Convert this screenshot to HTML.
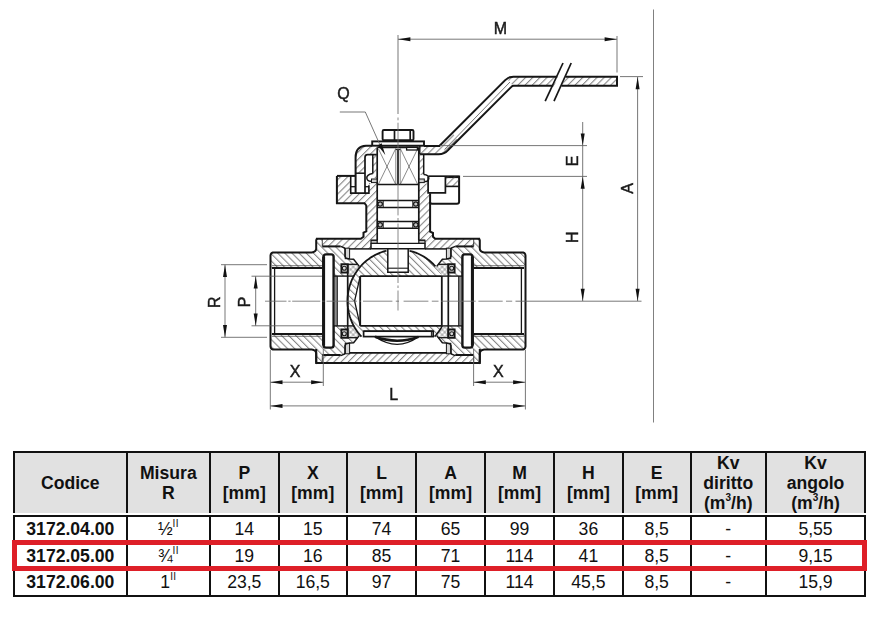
<!DOCTYPE html>
<html><head><meta charset="utf-8"><title>Valve</title>
<style>
html,body{margin:0;padding:0;background:#fff;}
body{width:888px;height:630px;position:relative;overflow:hidden;font-family:"Liberation Sans",sans-serif;color:#111;}
svg{position:absolute;left:0;top:0;filter:blur(0.4px);}
svg text{font-family:"Liberation Sans",sans-serif;fill:#1a1a1a;stroke:#1a1a1a;stroke-width:0.45px;}
.tb{position:absolute;background:#111;}
.hd{position:absolute;background:#e1e1e1;top:453px;height:60px;}
.c{position:absolute;text-align:center;white-space:nowrap;font-size:17.6px;line-height:20px;}
.b{font-weight:bold;}
.red{position:absolute;left:12px;top:539.8px;width:844.5px;height:20.8px;border:5px solid #de1f28;}
sup.q{font-size:10px;line-height:0;vertical-align:8px;letter-spacing:0.3px;}
sup.e{font-size:10px;line-height:0;vertical-align:8px;}
.fr{font-size:17px;}
</style></head><body>
<svg width="888" height="630" viewBox="0 0 888 630">
<defs>
<pattern id="hf" width="5.05" height="5.05" patternUnits="userSpaceOnUse" patternTransform="rotate(45)"><line x1="2.3" y1="0" x2="2.3" y2="5.05" stroke="#444" stroke-width="0.7"/></pattern>
<pattern id="hb" width="5.05" height="5.05" patternUnits="userSpaceOnUse" patternTransform="rotate(-45)"><line x1="2.3" y1="0" x2="2.3" y2="5.05" stroke="#444" stroke-width="0.7"/></pattern>
<pattern id="hx" width="3.7" height="3.7" patternUnits="userSpaceOnUse" patternTransform="rotate(45)"><line x1="1.85" y1="0" x2="1.85" y2="3.7" stroke="#666" stroke-width="0.55"/><line x1="0" y1="1.85" x2="3.7" y2="1.85" stroke="#666" stroke-width="0.55"/></pattern>
</defs>
<line x1="653.5" y1="9.5" x2="653.5" y2="422.5" stroke="#808080" stroke-width="1.0" />
<polygon points="271,253 312.5,252.4 316.2,249 316.2,238.7 322,238.7 322,246.4 340.7,246.4 344.3,247.9 345,256.4 349.6,258.9 353.6,259.3 357.6,264.3 341.4,264.3 341.4,272.5 347.5,272.5 347.5,276.1 333.9,276.1 333.9,254.2 323.2,254.2 323.2,268 271,268" fill="url(#hb)" stroke="none"/>
<polygon points="525,253 483.5,252.4 479.8,249 479.8,238.7 474,238.7 474,246.4 455.3,246.4 451.7,247.9 451,256.4 446.4,258.9 442.4,259.3 438.4,264.3 454.6,264.3 454.6,272.5 448.5,272.5 448.5,276.1 462.1,276.1 462.1,254.2 472.8,254.2 472.8,268 525,268" fill="url(#hb)" stroke="none"/>
<polygon points="271,349 312.5,349.6 316.2,353 316.2,363.3 322,363.3 322,355.6 340.7,355.6 344.3,354.1 345,345.6 349.6,343.1 353.6,342.7 357.6,337.7 341.4,337.7 341.4,329.5 347.5,329.5 347.5,325.9 333.9,325.9 333.9,347.8 323.2,347.8 323.2,334 271,334" fill="url(#hb)" stroke="none"/>
<polygon points="525,349 483.5,349.6 479.8,353 479.8,363.3 474,363.3 474,355.6 455.3,355.6 451.7,354.1 451,345.6 446.4,343.1 442.4,342.7 438.4,337.7 454.6,337.7 454.6,329.5 448.5,329.5 448.5,325.9 462.1,325.9 462.1,347.8 472.8,347.8 472.8,334 525,334" fill="url(#hb)" stroke="none"/>
<polygon points="322,238.7 360.8,238.7 363.5,235.5 363.5,232.7 366.3,231.4 366.3,204.5 365,203.2 336.9,203.2 336.9,175.9 350.7,175.9 350.7,193.1 368.9,193.1 368.9,183 377.2,183 377.2,240.3 371,240.3 371,248.9 345,248.9 344.3,247.9 340.7,246.4 322,246.4" fill="url(#hf)" stroke="none"/>
<polygon points="474,238.7 435.2,238.7 432.5,235.5 432.5,232.7 429.9,231.4 429.9,193 428,193 428,183.5 418.8,183.5 418.8,240.3 425,240.3 425,248.9 451,248.9 451.7,247.9 455.3,246.4 474,246.4" fill="url(#hf)" stroke="none"/>
<polygon points="322,355.6 340.7,355.6 344.3,354.1 345,352.9 451,352.9 451.7,354.1 455.3,355.6 474,355.6 474,363 322,363" fill="url(#hf)" stroke="none"/>
<polyline points="270.5,301 270.5,255.6 270.8,254.2 271.6,253.1 272.8,252.5 274,252.4 311.8,252.4 313.6,252.1 315.2,251.1 316,249.8 316.2,248.4 316.2,240.4 316.5,239.3 317.4,238.7" fill="none" stroke="#161616" stroke-width="2.0" />
<polyline points="525.5,301 525.5,255.6 525.2,254.2 524.4,253.1 523.2,252.5 522,252.4 484.2,252.4 482.4,252.1 480.8,251.1 480,249.8 479.8,248.4 479.8,240.4 479.5,239.3 478.6,238.7" fill="none" stroke="#161616" stroke-width="2.0" />
<polyline points="270.5,301 270.5,346.4 270.8,347.8 271.6,348.9 272.8,349.5 274,349.6 311.8,349.6 313.6,349.9 315.2,350.9 316,352.2 316.2,353.6 316.2,361.6 316.5,362.7 317.4,363.3" fill="none" stroke="#161616" stroke-width="2.0" />
<polyline points="525.5,301 525.5,346.4 525.2,347.8 524.4,348.9 523.2,349.5 522,349.6 484.2,349.6 482.4,349.9 480.8,350.9 480,352.2 479.8,353.6 479.8,361.6 479.5,362.7 478.6,363.3" fill="none" stroke="#161616" stroke-width="2.0" />
<polyline points="272,268 322.3,268" fill="none" stroke="#161616" stroke-width="2.0" />
<polyline points="524,268 473.7,268" fill="none" stroke="#161616" stroke-width="2.0" />
<polyline points="272,334 322.3,334" fill="none" stroke="#161616" stroke-width="2.0" />
<polyline points="524,334 473.7,334" fill="none" stroke="#161616" stroke-width="2.0" />
<polyline points="274.6,268 274.6,301" fill="none" stroke="#161616" stroke-width="1.3" />
<polyline points="521.4,268 521.4,301" fill="none" stroke="#161616" stroke-width="1.3" />
<polyline points="274.6,334 274.6,301" fill="none" stroke="#161616" stroke-width="1.3" />
<polyline points="521.4,334 521.4,301" fill="none" stroke="#161616" stroke-width="1.3" />
<polyline points="272,265.7 322,265.7" fill="none" stroke="#3a3a3a" stroke-width="0.7" />
<polyline points="524,265.7 474,265.7" fill="none" stroke="#3a3a3a" stroke-width="0.7" />
<polyline points="272,336.3 322,336.3" fill="none" stroke="#3a3a3a" stroke-width="0.7" />
<polyline points="524,336.3 474,336.3" fill="none" stroke="#3a3a3a" stroke-width="0.7" />
<rect x="323.6" y="254.4" width="10" height="93.2" rx="2.4" fill="#fff" stroke="#161616" stroke-width="2.4"/>
<line x1="323.6" y1="256.5" x2="323.6" y2="345.5" stroke="#161616" stroke-width="3.0" />
<rect x="462.4" y="254.4" width="10" height="93.2" rx="2.4" fill="#fff" stroke="#161616" stroke-width="2.4"/>
<line x1="472.4" y1="256.5" x2="472.4" y2="345.5" stroke="#161616" stroke-width="3.0" />
<rect x="334.9" y="276.1" width="2.4" height="49.8" fill="#8c8c8c" stroke="none"/>
<line x1="337.3" y1="276.1" x2="337.3" y2="325.9" stroke="#161616" stroke-width="1.0" />
<rect x="458.7" y="276.1" width="2.4" height="49.8" fill="#8c8c8c" stroke="none"/>
<line x1="458.7" y1="276.1" x2="458.7" y2="325.9" stroke="#161616" stroke-width="1.0" />
<polyline points="333.9,276.1 354.3,276.1" fill="none" stroke="#161616" stroke-width="1.4" />
<polyline points="462.1,276.1 441.7,276.1" fill="none" stroke="#161616" stroke-width="1.4" />
<polyline points="333.9,325.9 354.3,325.9" fill="none" stroke="#161616" stroke-width="1.4" />
<polyline points="462.1,325.9 441.7,325.9" fill="none" stroke="#161616" stroke-width="1.4" />
<polygon points="341.4,264.3 347.7,264.3 347.7,272.5 341.4,272.5" fill="#fff" stroke="#161616" stroke-width="1.9" />
<polygon points="454.6,264.3 448.3,264.3 448.3,272.5 454.6,272.5" fill="#fff" stroke="#161616" stroke-width="1.9" />
<polygon points="341.4,337.7 347.7,337.7 347.7,329.5 341.4,329.5" fill="#fff" stroke="#161616" stroke-width="1.9" />
<polygon points="454.6,337.7 448.3,337.7 448.3,329.5 454.6,329.5" fill="#fff" stroke="#161616" stroke-width="1.9" />
<circle cx="344.3" cy="268.3" r="2" fill="#d8d8d8" stroke="#161616" stroke-width="1.1"/>
<circle cx="451.7" cy="268.3" r="2" fill="#d8d8d8" stroke="#161616" stroke-width="1.1"/>
<circle cx="344.3" cy="333.7" r="2" fill="#d8d8d8" stroke="#161616" stroke-width="1.1"/>
<circle cx="451.7" cy="333.7" r="2" fill="#d8d8d8" stroke="#161616" stroke-width="1.1"/>
<polygon points="347.7,264.3 357.6,264.3 359.3,266.4 360.54,266.4 359.26,267.9 358.04,269.45 356.88,271.05 355.78,272.69 354.74,274.38 353.77,276.1 347.7,276.1" fill="url(#hx)" stroke="none"/>
<polygon points="448.3,264.3 438.4,264.3 436.7,266.4 435.46,266.4 436.74,267.9 437.96,269.45 439.12,271.05 440.22,272.69 441.26,274.38 442.23,276.1 448.3,276.1" fill="url(#hx)" stroke="none"/>
<polygon points="347.7,337.7 357.6,337.7 359.3,335.6 360.54,335.6 359.26,334.1 358.04,332.55 356.88,330.95 355.78,329.31 354.74,327.62 353.77,325.9 347.7,325.9" fill="url(#hx)" stroke="none"/>
<polygon points="448.3,337.7 438.4,337.7 436.7,335.6 435.46,335.6 436.74,334.1 437.96,332.55 439.12,330.95 440.22,329.31 441.26,327.62 442.23,325.9 448.3,325.9" fill="url(#hx)" stroke="none"/>
<polyline points="347.7,264.3 357.6,264.3" fill="none" stroke="#161616" stroke-width="1.3" />
<polyline points="448.3,264.3 438.4,264.3" fill="none" stroke="#161616" stroke-width="1.3" />
<polyline points="347.7,337.7 357.6,337.7" fill="none" stroke="#161616" stroke-width="1.3" />
<polyline points="448.3,337.7 438.4,337.7" fill="none" stroke="#161616" stroke-width="1.3" />
<polyline points="347.7,264.3 347.7,301" fill="none" stroke="#161616" stroke-width="1.7" />
<polyline points="448.3,264.3 448.3,301" fill="none" stroke="#161616" stroke-width="1.7" />
<polyline points="347.7,337.7 347.7,301" fill="none" stroke="#161616" stroke-width="1.7" />
<polyline points="448.3,337.7 448.3,301" fill="none" stroke="#161616" stroke-width="1.7" />
<rect x="345.2" y="248.2" width="4.4" height="10.5" fill="#d4d4d4" stroke="#161616" stroke-width="1"/>
<rect x="446.4" y="248.2" width="4.4" height="10.5" fill="#d4d4d4" stroke="#161616" stroke-width="1"/>
<rect x="345.2" y="343.3" width="4.4" height="10.5" fill="#d4d4d4" stroke="#161616" stroke-width="1"/>
<rect x="446.4" y="343.3" width="4.4" height="10.5" fill="#d4d4d4" stroke="#161616" stroke-width="1"/>
<polyline points="340.7,246.4 344.3,247.9 345,249 345,256.4 346,258.2 349.6,258.9 353.6,259.3 359.3,266.4" fill="none" stroke="#161616" stroke-width="1.5" />
<polyline points="455.3,246.4 451.7,247.9 451,249 451,256.4 450,258.2 446.4,258.9 442.4,259.3 436.7,266.4" fill="none" stroke="#161616" stroke-width="1.5" />
<polyline points="340.7,355.6 344.3,354.1 345,353 345,345.6 346,343.8 349.6,343.1 353.6,342.7 359.3,335.6" fill="none" stroke="#161616" stroke-width="1.5" />
<polyline points="455.3,355.6 451.7,354.1 451,353 451,345.6 450,343.8 446.4,343.1 442.4,342.7 436.7,335.6" fill="none" stroke="#161616" stroke-width="1.5" />
<polyline points="322.3,246.4 340.7,246.4" fill="none" stroke="#161616" stroke-width="2.0" />
<polyline points="473.7,246.4 455.3,246.4" fill="none" stroke="#161616" stroke-width="2.0" />
<polyline points="322.3,355 340.7,355" fill="none" stroke="#161616" stroke-width="2.0" />
<polyline points="473.7,355 455.3,355" fill="none" stroke="#161616" stroke-width="2.0" />
<polyline points="322.3,238.7 322.3,246.4" fill="none" stroke="#161616" stroke-width="0.8" />
<polyline points="473.7,238.7 473.7,246.4" fill="none" stroke="#161616" stroke-width="0.8" />
<polyline points="322.3,363.3 322.3,355.6" fill="none" stroke="#161616" stroke-width="0.8" />
<polyline points="473.7,363.3 473.7,355.6" fill="none" stroke="#161616" stroke-width="0.8" />
<polyline points="316.2,238.7 360.8,238.7 363.5,236.8 363.5,232.7 366.3,231.4 366.3,205.5 364.5,203.2 336.9,203.2 336.9,175.9" fill="none" stroke="#161616" stroke-width="2.0" />
<polyline points="479.8,238.7 435.2,238.7 433,236.8 433,233 430.1,231.6 430.1,193.2" fill="none" stroke="#161616" stroke-width="2.0" />
<polyline points="316.2,349 316.2,363 479.8,363 479.8,349" fill="none" stroke="#161616" stroke-width="2.0" />
<line x1="349.6" y1="248.9" x2="371" y2="248.9" stroke="#161616" stroke-width="1.5" />
<line x1="425" y1="248.9" x2="446.4" y2="248.9" stroke="#161616" stroke-width="1.5" />
<line x1="349.6" y1="352.9" x2="446.4" y2="352.9" stroke="#161616" stroke-width="1.8" />
<polygon points="360.2,276.1 353.77,276.1 354.54,274.72 355.36,273.36 356.21,272.03 357.1,270.73 358.04,269.45 359.01,268.21 360.02,266.99 361.06,265.81 362.14,264.67 363.26,263.55 364.4,262.48 365.58,261.43 366.79,260.43 368.03,259.47 369.3,258.54 370.6,257.66 371.92,256.82 373.26,256.01 374.63,255.26 376.03,254.54 377.44,253.87 378.87,253.25 380.32,252.66 381.79,252.13 383.27,251.64 384.77,251.2 386.28,250.81 387.8,250.46 387.8,276.1" fill="url(#hb)" stroke="none"/>
<polygon points="408.2,276.1 408.2,250.46 409.72,250.81 411.23,251.2 412.73,251.64 414.21,252.13 415.68,252.66 417.13,253.25 418.56,253.87 419.97,254.54 421.37,255.26 422.74,256.01 424.08,256.82 425.4,257.66 426.7,258.54 427.97,259.47 429.21,260.43 430.42,261.43 431.6,262.48 432.74,263.55 433.86,264.67 434.94,265.81 435.98,266.99 436.99,268.21 437.96,269.45 438.9,270.73 439.79,272.03 440.64,273.36 441.46,274.72 442.23,276.1" fill="url(#hb)" stroke="none"/>
<polygon points="387.8,272.3 408.2,272.3 408.2,276.1 387.8,276.1" fill="url(#hb)" stroke="none"/>
<polygon points="353.77,276.1 352.92,277.74 352.13,279.41 351.4,281.11 350.73,282.84 350.12,284.59 349.58,286.36 349.09,288.14 348.67,289.95 348.31,291.77 348.02,293.6 347.79,295.44 347.63,297.29 347.53,299.14 347.5,301 347.53,302.86 347.63,304.71 347.79,306.56 348.02,308.4 348.31,310.23 348.67,312.05 349.09,313.86 349.58,315.64 350.12,317.41 350.73,319.16 351.4,320.89 352.13,322.59 352.92,324.26 353.77,325.9 360.2,325.8 354.6,301 360.2,276.1" fill="url(#hb)" stroke="none"/>
<polygon points="353.77,325.9 354.86,327.82 356.02,329.69 357.27,331.5 358.59,333.26 359.98,334.96 361.44,336.6 363.6,331.2 433.2,331.2 434.56,336.6 436.02,334.96 437.41,333.26 438.73,331.5 439.98,329.69 441.14,327.82 442.23,325.9" fill="url(#hb)" stroke="none"/>
<polyline points="386.51,250.75 384.79,251.2 383.09,251.7 381.41,252.26 379.75,252.89 378.11,253.57 376.5,254.31 374.91,255.11 373.35,255.96 371.82,256.87 370.32,257.84 368.86,258.86 367.43,259.92 366.05,261.04 364.69,262.21 363.39,263.43 362.12,264.69 360.9,266 359.72,267.35 358.59,268.74 357.51,270.17 356.47,271.64 355.49,273.14 354.56,274.68 353.69,276.25 352.87,277.85 352.1,279.48 351.39,281.14 350.74,282.82 350.14,284.53 349.61,286.25 349.13,287.99 348.72,289.75 348.36,291.52 348.07,293.3 347.83,295.09 347.66,296.89 347.55,298.7 347.5,300.51 347.52,302.31 347.59,304.12 347.73,305.92 347.93,307.72 348.19,309.51 348.51,311.29 348.9,313.05 349.34,314.8 349.84,316.54 350.41,318.25 351.03,319.94 351.7,321.61 352.44,323.26 353.23,324.88 354.08,326.46 354.98,328.02 355.93,329.54 356.93,331.03 357.99,332.48 359.09,333.9 360.25,335.27 361.44,336.6" fill="none" stroke="#161616" stroke-width="1.8" />
<polyline points="409.49,250.75 410.55,251.02 411.61,251.31 412.66,251.62 413.7,251.96 414.74,252.32 415.77,252.7 416.78,253.1 417.8,253.53 418.8,253.98 419.79,254.45 420.77,254.94 421.74,255.46 422.7,255.99 423.65,256.55 424.58,257.13 425.51,257.73 426.42,258.34 427.31,258.98 428.2,259.64 429.07,260.32 429.92,261.02 430.76,261.73 431.59,262.47 432.39,263.22 433.19,263.99 433.96,264.78 434.72,265.58 435.46,266.4" fill="none" stroke="#161616" stroke-width="1.8" />
<polyline points="434.56,336.6 436.02,334.96 437.41,333.26 438.73,331.5 439.98,329.69 441.14,327.82 442.23,325.9" fill="none" stroke="#161616" stroke-width="1.6" />
<polyline points="360.2,276.1 354.6,301 360.2,325.8" fill="none" stroke="#161616" stroke-width="1.3" />
<line x1="360.2" y1="276.1" x2="441.8" y2="276.1" stroke="#161616" stroke-width="1.6" />
<line x1="360.2" y1="276.1" x2="360.2" y2="325.8" stroke="#161616" stroke-width="1.8" />
<line x1="360.2" y1="325.8" x2="441.8" y2="325.8" stroke="#161616" stroke-width="1.8" />
<line x1="364" y1="331.2" x2="433" y2="331.2" stroke="#161616" stroke-width="1.4" />
<rect x="363.6" y="331.2" width="69.6" height="5.4" fill="#fff" stroke="#161616" stroke-width="1.7"/>
<line x1="431.4" y1="331.2" x2="431.4" y2="336.6" stroke="#161616" stroke-width="1.0" />
<path d="M375,336.8 Q397.5,351.8 418.5,336.8 Q397.5,344.3 375,336.8 Z" fill="#fff" stroke="#161616" stroke-width="1.3"/>
<path d="M375,336.8 Q397.5,344.6 418.5,336.8" fill="none" stroke="#161616" stroke-width="2.5"/>
<line x1="441.8" y1="276.1" x2="441.8" y2="325.8" stroke="#161616" stroke-width="1.8" />
<polyline points="387.8,249 387.8,272.3 408.2,272.3 408.2,249" fill="none" stroke="#161616" stroke-width="1.5" />
<line x1="387.8" y1="268.2" x2="408.2" y2="268.2" stroke="#161616" stroke-width="1.1" />
<polyline points="371,243.3 371,248.8 425,248.8 425,243.3" fill="#fff" stroke="#161616" stroke-width="1.5" />
<line x1="371" y1="243.3" x2="425" y2="243.3" stroke="#161616" stroke-width="1.3" />
<polyline points="371,240.3 377.2,240.3" fill="none" stroke="#161616" stroke-width="1.3" />
<polyline points="418.8,240.3 425,240.3" fill="none" stroke="#161616" stroke-width="1.3" />
<rect x="371" y="240.3" width="6.2" height="3" fill="#c4c4c4" stroke="#161616" stroke-width="1.2"/>
<rect x="418.8" y="240.3" width="6.2" height="3" fill="#c4c4c4" stroke="#161616" stroke-width="1.2"/>
<line x1="377.2" y1="147.8" x2="377.2" y2="240.3" stroke="#161616" stroke-width="1.7" />
<line x1="418.8" y1="147.8" x2="418.8" y2="240.3" stroke="#161616" stroke-width="1.7" />
<line x1="377.2" y1="200.4" x2="418.8" y2="200.4" stroke="#161616" stroke-width="1.5" />
<line x1="377.2" y1="207.6" x2="418.8" y2="207.6" stroke="#161616" stroke-width="1.5" />
<line x1="383.2" y1="200.4" x2="383.2" y2="207.6" stroke="#161616" stroke-width="1.0" />
<line x1="412.8" y1="200.4" x2="412.8" y2="207.6" stroke="#161616" stroke-width="1.0" />
<circle cx="380.2" cy="204.0" r="2.2" fill="#c8c8c8" stroke="#161616" stroke-width="1.2"/>
<circle cx="415.8" cy="204.0" r="2.2" fill="#c8c8c8" stroke="#161616" stroke-width="1.2"/>
<line x1="377.2" y1="221.5" x2="418.8" y2="221.5" stroke="#161616" stroke-width="1.5" />
<line x1="377.2" y1="228.2" x2="418.8" y2="228.2" stroke="#161616" stroke-width="1.5" />
<line x1="383.2" y1="221.5" x2="383.2" y2="228.2" stroke="#161616" stroke-width="1.0" />
<line x1="412.8" y1="221.5" x2="412.8" y2="228.2" stroke="#161616" stroke-width="1.0" />
<circle cx="380.2" cy="224.8" r="2.2" fill="#c8c8c8" stroke="#161616" stroke-width="1.2"/>
<circle cx="415.8" cy="224.8" r="2.2" fill="#c8c8c8" stroke="#161616" stroke-width="1.2"/>
<line x1="377.2" y1="184.5" x2="418.8" y2="184.5" stroke="#161616" stroke-width="1.6" />
<line x1="377.2" y1="147.4" x2="418.8" y2="147.4" stroke="#161616" stroke-width="1.7" />
<line x1="395.8" y1="148" x2="395.8" y2="184.5" stroke="#555" stroke-width="0.7" />
<line x1="400.2" y1="148" x2="400.2" y2="184.5" stroke="#555" stroke-width="0.7" />
<line x1="395.8" y1="149.6" x2="400.2" y2="149.6" stroke="#161616" stroke-width="1.0" />
<line x1="398" y1="149.6" x2="398" y2="184.5" stroke="#161616" stroke-width="1.9" />
<line x1="378.5" y1="149" x2="395.5" y2="184" stroke="#3a3a3a" stroke-width="0.6" />
<line x1="395.5" y1="149" x2="378.5" y2="184" stroke="#3a3a3a" stroke-width="0.6" />
<line x1="400.5" y1="149" x2="417.5" y2="184" stroke="#3a3a3a" stroke-width="0.6" />
<line x1="417.5" y1="149" x2="400.5" y2="184" stroke="#3a3a3a" stroke-width="0.6" />
<rect x="382.6" y="130" width="30.9" height="10.3" rx="1.3" fill="#fff" stroke="#161616" stroke-width="1.9"/>
<line x1="394.5" y1="130.2" x2="394.5" y2="140" stroke="#161616" stroke-width="1.7" />
<line x1="410.2" y1="130.2" x2="410.2" y2="140" stroke="#161616" stroke-width="1.7" />
<rect x="372.2" y="141.4" width="51.8" height="4.3" fill="#fff" stroke="#161616" stroke-width="1.9"/>
<rect x="406.6" y="147.4" width="10.8" height="2.6" fill="#fff" stroke="#161616" stroke-width="1.3"/>
<polyline points="336.9,175.9 355.6,175.9" fill="none" stroke="#161616" stroke-width="2.0" />
<polyline points="350.7,175.9 350.7,193.1 368.9,193.1 368.9,185.2" fill="none" stroke="#161616" stroke-width="1.6" />
<line x1="350.7" y1="186.7" x2="355.6" y2="186.7" stroke="#161616" stroke-width="1.3" />
<line x1="365" y1="186.7" x2="368.9" y2="186.7" stroke="#161616" stroke-width="1.3" />
<path d="M428.6,176.4 L459.1,176.4 L459.1,201.7 Q459.1,203.7 457,203.7 L431.8,203.7 Q430.1,203.7 430.1,202" fill="none" stroke="#161616" stroke-width="2.0"/>
<line x1="428.6" y1="176.9" x2="459.1" y2="176.9" stroke="#161616" stroke-width="2.4" />
<polygon points="445.4,176.4 459.1,176.4 459.1,186.4 445.4,186.4" fill="url(#hf)" stroke="none"/>
<polyline points="428.1,177 428.1,192.9 445.4,192.9 445.4,177" fill="#fff" stroke="#161616" stroke-width="1.7" />
<line x1="445.4" y1="186.4" x2="459.1" y2="186.4" stroke="#161616" stroke-width="1.6" />
<polygon points="419.8,145.9 440.5,145.9 453,133.5 458,141 448.3,150.2 444.5,153.2 439.4,154.2 419.8,154.2" fill="url(#hf)" stroke="none"/>
<polygon points="512,76.9 558,76.9 554.5,85.4 512.8,85.4 508,80" fill="url(#hf)" stroke="none"/>
<polygon points="566,76.9 617,76.9 617,85.4 562,85.4" fill="url(#hf)" stroke="none"/>
<path d="M423.9,145.9 L439.4,145.9 L505.2,80.1 Q508.6,76.7 513.4,76.7 L557.3,76.7" fill="none" stroke="#161616" stroke-width="2.0"/>
<path d="M419.8,154.2 L438.5,154.2 Q444.5,154.2 448.4,149.8 L511.6,86.6 Q512.4,85.7 513.6,85.7 L553.3,85.7" fill="none" stroke="#161616" stroke-width="2.0"/>
<line x1="419.8" y1="145.9" x2="419.8" y2="154.2" stroke="#161616" stroke-width="1.4" />
<polyline points="565.5,76.7 617,76.7 617,85.7 561.5,85.7" fill="none" stroke="#161616" stroke-width="2.0" />
<line x1="444.5" y1="149.5" x2="510" y2="82" stroke="#3a3a3a" stroke-width="0.7" />
<line x1="563" y1="63" x2="545.2" y2="101.2" stroke="#161616" stroke-width="1.7" />
<line x1="571.2" y1="63" x2="554" y2="101.2" stroke="#161616" stroke-width="1.7" />
<polygon points="377,145.8 366,145.8 358,149 355.6,157 355.6,173.2 365,173.2 365,157 367,154.7 377,154.7" fill="url(#hf)" stroke="none"/>
<path d="M372.2,145.8 L366,145.8 Q355.6,146.3 355.6,157.5 L355.6,193.1" fill="none" stroke="#161616" stroke-width="2.0"/>
<path d="M376.8,154.7 L367.5,154.7 Q365,154.7 365,157.5 L365,193.1" fill="none" stroke="#161616" stroke-width="1.7"/>
<line x1="355.6" y1="173.2" x2="365" y2="173.2" stroke="#161616" stroke-width="1.5" />
<polygon points="372.8,154.7 377,154.7 377,178 372.8,178" fill="url(#hf)" stroke="none"/>
<polygon points="419,154.2 423.7,154.2 423.7,175 419,175" fill="url(#hf)" stroke="none"/>
<line x1="372.8" y1="154.7" x2="372.8" y2="173.4" stroke="#161616" stroke-width="1.5" />
<line x1="423.7" y1="154.2" x2="423.7" y2="174.4" stroke="#161616" stroke-width="1.5" />
<path d="M372.8,173.4 Q366.5,174.5 366.8,178 Q367.2,181.5 371.5,181.3" fill="none" stroke="#161616" stroke-width="1.5"/>
<path d="M423.7,174.4 Q429,174.8 428.8,178.3 Q428.4,181.8 424.5,181.6" fill="none" stroke="#161616" stroke-width="1.5"/>
<rect x="371.5" y="179" width="5.5" height="3.6" fill="#cfcfcf" stroke="#161616" stroke-width="1"/>
<rect x="419" y="179" width="5.3" height="3.6" fill="#cfcfcf" stroke="#161616" stroke-width="1"/>
<line x1="398" y1="35" x2="398" y2="114" stroke="#5e5e5e" stroke-width="0.85" />
<line x1="398" y1="117.5" x2="398" y2="120.3" stroke="#6a6a6a" stroke-width="0.8" />
<line x1="398" y1="122.7" x2="398" y2="215.4" stroke="#6a6a6a" stroke-width="0.8" />
<line x1="398" y1="218" x2="398" y2="221" stroke="#6a6a6a" stroke-width="0.8" />
<line x1="398" y1="223.5" x2="398" y2="283" stroke="#6a6a6a" stroke-width="0.8" />
<line x1="398" y1="285.5" x2="398" y2="288" stroke="#6a6a6a" stroke-width="0.8" />
<line x1="398" y1="290.5" x2="398" y2="310.5" stroke="#6a6a6a" stroke-width="0.8" />
<line x1="265" y1="301.2" x2="286.5" y2="301.2" stroke="#6a6a6a" stroke-width="0.8" />
<line x1="288.3" y1="301.2" x2="290.6" y2="301.2" stroke="#6a6a6a" stroke-width="0.8" />
<line x1="292.2" y1="301.2" x2="320.3" y2="301.2" stroke="#6a6a6a" stroke-width="0.8" />
<line x1="322.2" y1="301.2" x2="324.6" y2="301.2" stroke="#6a6a6a" stroke-width="0.8" />
<line x1="326.5" y1="301.2" x2="357" y2="301.2" stroke="#6a6a6a" stroke-width="0.8" />
<line x1="359" y1="301.2" x2="361" y2="301.2" stroke="#6a6a6a" stroke-width="0.8" />
<line x1="363" y1="301.2" x2="392.4" y2="301.2" stroke="#6a6a6a" stroke-width="0.8" />
<line x1="395.8" y1="301.2" x2="399" y2="301.2" stroke="#6a6a6a" stroke-width="0.8" />
<line x1="403.6" y1="301.2" x2="428.4" y2="301.2" stroke="#6a6a6a" stroke-width="0.8" />
<line x1="431.8" y1="301.2" x2="438.5" y2="301.2" stroke="#6a6a6a" stroke-width="0.8" />
<line x1="441" y1="301.2" x2="475.7" y2="301.2" stroke="#6a6a6a" stroke-width="0.8" />
<line x1="478.4" y1="301.2" x2="502.7" y2="301.2" stroke="#6a6a6a" stroke-width="0.8" />
<line x1="506" y1="301.2" x2="512.2" y2="301.2" stroke="#6a6a6a" stroke-width="0.8" />
<line x1="515.5" y1="301.2" x2="641.5" y2="301.2" stroke="#5e5e5e" stroke-width="0.85" />
<line x1="398" y1="39.2" x2="617" y2="39.2" stroke="#5e5e5e" stroke-width="0.85" />
<polygon points="398.2,39.2 410.4,37.2 410.4,41.2" fill="#111" stroke="none"/>
<polygon points="616.8,39.2 604.6,37.2 604.6,41.2" fill="#111" stroke="none"/>
<line x1="617" y1="36" x2="617" y2="72.5" stroke="#5e5e5e" stroke-width="0.85" />
<line x1="637.6" y1="77" x2="637.6" y2="301" stroke="#5e5e5e" stroke-width="0.85" />
<polygon points="637.6,77 635.6,89.2 639.6,89.2" fill="#111" stroke="none"/>
<polygon points="637.6,301 635.6,288.8 639.6,288.8" fill="#111" stroke="none"/>
<line x1="620" y1="76.6" x2="643" y2="76.6" stroke="#5e5e5e" stroke-width="0.85" />
<line x1="582.7" y1="122" x2="582.7" y2="301" stroke="#5e5e5e" stroke-width="0.85" />
<polygon points="582.7,145.6 580.7,133.4 584.7,133.4" fill="#111" stroke="none"/>
<polygon points="582.7,176.5 580.7,188.7 584.7,188.7" fill="#111" stroke="none"/>
<polygon points="582.7,301 580.7,288.8 584.7,288.8" fill="#111" stroke="none"/>
<line x1="440" y1="145.6" x2="587" y2="145.6" stroke="#5e5e5e" stroke-width="0.85" />
<line x1="463" y1="176.4" x2="587" y2="176.4" stroke="#5e5e5e" stroke-width="0.85" />
<line x1="225" y1="264.7" x2="225" y2="337.3" stroke="#5e5e5e" stroke-width="0.85" />
<polygon points="225,264.7 223,276.9 227,276.9" fill="#111" stroke="none"/>
<polygon points="225,337.3 223,325.1 227,325.1" fill="#111" stroke="none"/>
<line x1="221" y1="264.7" x2="267" y2="264.7" stroke="#5e5e5e" stroke-width="0.85" />
<line x1="221" y1="337.3" x2="267" y2="337.3" stroke="#5e5e5e" stroke-width="0.85" />
<line x1="255.7" y1="276.2" x2="255.7" y2="325.8" stroke="#5e5e5e" stroke-width="0.85" />
<polygon points="255.7,276.2 253.7,288.4 257.7,288.4" fill="#111" stroke="none"/>
<polygon points="255.7,325.8 253.7,313.6 257.7,313.6" fill="#111" stroke="none"/>
<line x1="251.5" y1="276.2" x2="322" y2="276.2" stroke="#5e5e5e" stroke-width="0.85" />
<line x1="251.5" y1="325.8" x2="322" y2="325.8" stroke="#5e5e5e" stroke-width="0.85" />
<line x1="270.3" y1="382.2" x2="323.3" y2="382.2" stroke="#5e5e5e" stroke-width="0.85" />
<polygon points="270.3,382.2 282.5,380.2 282.5,384.2" fill="#111" stroke="none"/>
<polygon points="323.3,382.2 311.1,380.2 311.1,384.2" fill="#111" stroke="none"/>
<line x1="473.6" y1="382.2" x2="525.3" y2="382.2" stroke="#5e5e5e" stroke-width="0.85" />
<polygon points="473.6,382.2 485.8,380.2 485.8,384.2" fill="#111" stroke="none"/>
<polygon points="525.3,382.2 513.1,380.2 513.1,384.2" fill="#111" stroke="none"/>
<line x1="270.3" y1="405.9" x2="525.3" y2="405.9" stroke="#5e5e5e" stroke-width="0.85" />
<polygon points="270.3,405.9 282.5,403.9 282.5,407.9" fill="#111" stroke="none"/>
<polygon points="525.3,405.9 513.1,403.9 513.1,407.9" fill="#111" stroke="none"/>
<line x1="270.3" y1="350" x2="270.3" y2="409.5" stroke="#5e5e5e" stroke-width="0.85" />
<line x1="525.4" y1="350" x2="525.4" y2="409.5" stroke="#5e5e5e" stroke-width="0.85" />
<line x1="323.3" y1="349" x2="323.3" y2="386" stroke="#5e5e5e" stroke-width="0.85" />
<line x1="473.6" y1="349" x2="473.6" y2="386" stroke="#5e5e5e" stroke-width="0.85" />
<polyline points="339.8,112 365.3,112 379.5,143.8" fill="none" stroke="#5e5e5e" stroke-width="0.85" />
<polygon points="385.3,155 377.8,145.2 381.6,143.3" fill="#111"/>
<text x="500.4" y="34" font-size="16" text-anchor="middle">M</text>
<text x="343.5" y="99" font-size="16" text-anchor="middle">Q</text>
<text x="295" y="376.5" font-size="16" text-anchor="middle">X</text>
<text x="498.3" y="376.5" font-size="16" text-anchor="middle">X</text>
<text x="393.6" y="400" font-size="16" text-anchor="middle">L</text>
<text x="219.8" y="302.3" font-size="16" text-anchor="middle" transform="rotate(-90 219.8 302.3)">R</text>
<text x="249.8" y="301.8" font-size="16" text-anchor="middle" transform="rotate(-90 249.8 301.8)">P</text>
<text x="577.8" y="160.8" font-size="16" text-anchor="middle" transform="rotate(-90 577.8 160.8)">E</text>
<text x="577.8" y="237.2" font-size="16" text-anchor="middle" transform="rotate(-90 577.8 237.2)">H</text>
<text x="632.7" y="188.3" font-size="16" text-anchor="middle" transform="rotate(-90 632.7 188.3)">A</text>
</svg>
<div class="hd" style="left:14px;width:851px"></div>
<div class="c b" style="left:14px;width:112.7px;top:473.0px">Codice</div>
<div class="c b" style="left:126.7px;width:83.3px;top:462.8px">Misura</div>
<div class="c b" style="left:126.7px;width:83.3px;top:483.1px">R</div>
<div class="c b" style="left:210px;width:68.5px;top:462.8px">P</div>
<div class="c b" style="left:210px;width:68.5px;top:483.1px">[mm]</div>
<div class="c b" style="left:278.5px;width:68.5px;top:462.8px">X</div>
<div class="c b" style="left:278.5px;width:68.5px;top:483.1px">[mm]</div>
<div class="c b" style="left:347px;width:69px;top:462.8px">L</div>
<div class="c b" style="left:347px;width:69px;top:483.1px">[mm]</div>
<div class="c b" style="left:416px;width:69px;top:462.8px">A</div>
<div class="c b" style="left:416px;width:69px;top:483.1px">[mm]</div>
<div class="c b" style="left:485px;width:69px;top:462.8px">M</div>
<div class="c b" style="left:485px;width:69px;top:483.1px">[mm]</div>
<div class="c b" style="left:554px;width:68.79999999999995px;top:462.8px">H</div>
<div class="c b" style="left:554px;width:68.79999999999995px;top:483.1px">[mm]</div>
<div class="c b" style="left:622.8px;width:67.70000000000005px;top:462.8px">E</div>
<div class="c b" style="left:622.8px;width:67.70000000000005px;top:483.1px">[mm]</div>
<div class="c b" style="left:690.5px;width:75.5px;top:452.7px">Kv</div>
<div class="c b" style="left:690.5px;width:75.5px;top:473.0px">diritto</div>
<div class="c b" style="left:690.5px;width:75.5px;top:493.3px">(m<sup class='e'>3</sup>/h)</div>
<div class="c b" style="left:766px;width:99px;top:452.7px">Kv</div>
<div class="c b" style="left:766px;width:99px;top:473.0px">angolo</div>
<div class="c b" style="left:766px;width:99px;top:493.3px">(m<sup class='e'>3</sup>/h)</div>
<div class="c b" style="left:14px;width:112.7px;top:518.9px">3172.04.00</div>
<div class="c" style="left:126.7px;width:83.3px;top:518.9px">½<sup class='q'>II</sup></div>
<div class="c" style="left:210px;width:68.5px;top:518.9px">14</div>
<div class="c" style="left:278.5px;width:68.5px;top:518.9px">15</div>
<div class="c" style="left:347px;width:69px;top:518.9px">74</div>
<div class="c" style="left:416px;width:69px;top:518.9px">65</div>
<div class="c" style="left:485px;width:69px;top:518.9px">99</div>
<div class="c" style="left:554px;width:68.79999999999995px;top:518.9px">36</div>
<div class="c" style="left:622.8px;width:67.70000000000005px;top:518.9px">8,5</div>
<div class="c" style="left:690.5px;width:75.5px;top:518.9px">-</div>
<div class="c" style="left:766px;width:99px;top:518.9px">5,55</div>
<div class="c b" style="left:14px;width:112.7px;top:546.3px">3172.05.00</div>
<div class="c" style="left:126.7px;width:83.3px;top:546.3px">¾<sup class='q'>II</sup></div>
<div class="c" style="left:210px;width:68.5px;top:546.3px">19</div>
<div class="c" style="left:278.5px;width:68.5px;top:546.3px">16</div>
<div class="c" style="left:347px;width:69px;top:546.3px">85</div>
<div class="c" style="left:416px;width:69px;top:546.3px">71</div>
<div class="c" style="left:485px;width:69px;top:546.3px">114</div>
<div class="c" style="left:554px;width:68.79999999999995px;top:546.3px">41</div>
<div class="c" style="left:622.8px;width:67.70000000000005px;top:546.3px">8,5</div>
<div class="c" style="left:690.5px;width:75.5px;top:546.3px">-</div>
<div class="c" style="left:766px;width:99px;top:546.3px">9,15</div>
<div class="c b" style="left:14px;width:112.7px;top:572.4px">3172.06.00</div>
<div class="c" style="left:126.7px;width:83.3px;top:572.4px">1<sup class='q'>II</sup></div>
<div class="c" style="left:210px;width:68.5px;top:572.4px">23,5</div>
<div class="c" style="left:278.5px;width:68.5px;top:572.4px">16,5</div>
<div class="c" style="left:347px;width:69px;top:572.4px">97</div>
<div class="c" style="left:416px;width:69px;top:572.4px">75</div>
<div class="c" style="left:485px;width:69px;top:572.4px">114</div>
<div class="c" style="left:554px;width:68.79999999999995px;top:572.4px">45,5</div>
<div class="c" style="left:622.8px;width:67.70000000000005px;top:572.4px">8,5</div>
<div class="c" style="left:690.5px;width:75.5px;top:572.4px">-</div>
<div class="c" style="left:766px;width:99px;top:572.4px">15,9</div>
<div class="tb" style="left:13.0px;top:451px;width:2px;height:61.7px"></div>
<div class="tb" style="left:13.0px;top:514.6px;width:2px;height:82.2px"></div>
<div class="tb" style="left:125.7px;top:451px;width:2px;height:61.7px"></div>
<div class="tb" style="left:125.7px;top:514.6px;width:2px;height:82.2px"></div>
<div class="tb" style="left:209.0px;top:451px;width:2px;height:61.7px"></div>
<div class="tb" style="left:209.0px;top:514.6px;width:2px;height:82.2px"></div>
<div class="tb" style="left:277.5px;top:451px;width:2px;height:61.7px"></div>
<div class="tb" style="left:277.5px;top:514.6px;width:2px;height:82.2px"></div>
<div class="tb" style="left:346.0px;top:451px;width:2px;height:61.7px"></div>
<div class="tb" style="left:346.0px;top:514.6px;width:2px;height:82.2px"></div>
<div class="tb" style="left:415.0px;top:451px;width:2px;height:61.7px"></div>
<div class="tb" style="left:415.0px;top:514.6px;width:2px;height:82.2px"></div>
<div class="tb" style="left:484.0px;top:451px;width:2px;height:61.7px"></div>
<div class="tb" style="left:484.0px;top:514.6px;width:2px;height:82.2px"></div>
<div class="tb" style="left:553.0px;top:451px;width:2px;height:61.7px"></div>
<div class="tb" style="left:553.0px;top:514.6px;width:2px;height:82.2px"></div>
<div class="tb" style="left:621.8px;top:451px;width:2px;height:61.7px"></div>
<div class="tb" style="left:621.8px;top:514.6px;width:2px;height:82.2px"></div>
<div class="tb" style="left:689.5px;top:451px;width:2px;height:61.7px"></div>
<div class="tb" style="left:689.5px;top:514.6px;width:2px;height:82.2px"></div>
<div class="tb" style="left:765.0px;top:451px;width:2px;height:61.7px"></div>
<div class="tb" style="left:765.0px;top:514.6px;width:2px;height:82.2px"></div>
<div class="tb" style="left:864.0px;top:451px;width:2px;height:61.7px"></div>
<div class="tb" style="left:864.0px;top:514.6px;width:2px;height:82.2px"></div>
<div class="tb" style="left:13px;top:451.0px;width:853px;height:2px"></div>
<div class="tb" style="left:13px;top:514.6px;width:853px;height:2px"></div>
<div class="tb" style="left:13px;top:594.8px;width:853px;height:2px"></div>
<div class="tb" style="left:13px;top:540.7px;width:853px;height:1.6px"></div>
<div class="tb" style="left:13px;top:567.2px;width:853px;height:1.6px"></div>
<div class="red"></div>
</body></html>
